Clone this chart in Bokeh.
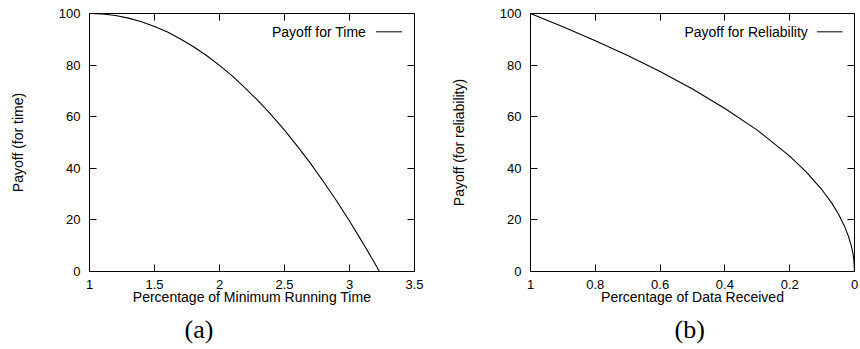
from bokeh.plotting import figure
from bokeh.layouts import row
from bokeh.models import Range1d, FixedTicker, LinearAxis, Label, Arrow, Title
from bokeh.embed import file_html
from bokeh.resources import INLINE

# ---- data ----
time_x = [1.0, 1.1, 1.2, 1.3, 1.4, 1.5, 1.6, 1.7, 1.8, 1.9, 2.0, 2.1, 2.2, 2.3,
          2.4, 2.5, 2.6, 2.7, 2.8, 2.9, 3.0, 3.1, 3.2, 3.23]
time_payoff = [100.0, 99.8, 99.2, 98.2, 96.8, 95.0, 92.8, 90.1, 87.1, 83.7, 79.9,
               75.7, 71.0, 66.0, 60.6, 54.8, 48.5, 41.9, 34.8, 27.4, 19.6, 11.3,
               2.7, 0.0]

data_x = [1.0, 0.9, 0.8, 0.7, 0.6, 0.5, 0.4, 0.3, 0.2, 0.15, 0.1, 0.07, 0.05,
          0.03, 0.02, 0.01, 0.005, 0.002, 0.0]
rel_payoff = [100.0, 94.9, 89.4, 83.7, 77.5, 70.7, 63.2, 54.8, 44.7, 38.7, 31.6,
              26.5, 22.4, 17.3, 14.1, 10.0, 7.1, 4.5, 0.0]

time_xticks = [1, 1.5, 2, 2.5, 3, 3.5]
time_xlabels = ["1", "1.5", "2", "2.5", "3", "3.5"]
data_xticks = [1, 0.8, 0.6, 0.4, 0.2, 0]
data_xlabels = ["1", "0.8", "0.6", "0.4", "0.2", "0"]
yticks = [0, 20, 40, 60, 80, 100]
ylabels = ["0", "20", "40", "60", "80", "100"]

FONT = "Liberation Sans"
SERIF = "Liberation Serif"


def style_axis(ax, ticks, labels, show_labels=True):
    ax.ticker = FixedTicker(ticks=ticks)
    ax.major_tick_in = 7
    ax.major_tick_out = 0
    ax.minor_tick_line_color = None
    ax.axis_line_color = "black"
    ax.major_tick_line_color = "black"
    ax.major_label_text_font = FONT
    ax.major_label_text_color = "black"
    if show_labels:
        ax.major_label_overrides = {t: l for t, l in zip(ticks, labels)}
        ax.major_label_text_font_size = "13px"
    else:
        ax.major_label_overrides = {t: "" for t in ticks}
        ax.major_label_text_font_size = "1px"
        ax.major_label_standoff = 0


def make_panel(xs, ys, x_range, xticks, xlabels, xlabel, ylabel, legend,
               leg_text_x, leg_line, caption, caption_offset, width, mbl, mbr,
               ylabel_standoff):
    p = figure(width=width, height=349, x_range=x_range, y_range=Range1d(0, 100),
               output_backend="svg", toolbar_location=None,
               min_border_left=mbl, min_border_right=mbr,
               min_border_top=13, min_border_bottom=78)
    p.grid.visible = False
    p.outline_line_color = "black"
    p.background_fill_color = "white"
    p.border_fill_color = "white"

    style_axis(p.xaxis[0], xticks, xlabels)
    style_axis(p.yaxis[0], yticks, ylabels)
    p.xaxis[0].major_label_standoff = 8
    p.yaxis[0].major_label_standoff = 9
    p.xaxis[0].axis_label = xlabel
    p.yaxis[0].axis_label = ylabel
    for ax in (p.xaxis[0], p.yaxis[0]):
        ax.axis_label_text_font = FONT
        ax.axis_label_text_font_size = "14px"
        ax.axis_label_text_font_style = "normal"
        ax.axis_label_text_color = "black"
    p.xaxis[0].axis_label_standoff = -3
    p.yaxis[0].axis_label_standoff = ylabel_standoff

    top = LinearAxis()
    style_axis(top, xticks, xlabels, show_labels=False)
    p.add_layout(top, "above")
    right = LinearAxis()
    style_axis(right, yticks, ylabels, show_labels=False)
    p.add_layout(right, "right")

    p.line(xs, ys, line_color="black", line_width=1.1)

    p.add_layout(Label(x=leg_text_x, y=92.9, text=legend, text_align="right",
                       text_baseline="middle", text_font=FONT,
                       text_font_size="14px", text_color="black"))
    p.add_layout(Arrow(end=None, x_start=leg_line[0], x_end=leg_line[1],
                       y_start=92.9, y_end=92.9, line_color="black", line_width=1))
    p.add_layout(Title(text=caption, align="left", offset=caption_offset,
                       text_font=SERIF, text_font_size="26px",
                       text_font_style="normal", text_color="black",
                       standoff=11), "below")
    return p


p1 = make_panel(time_x, time_payoff, Range1d(1, 3.5), time_xticks, time_xlabels,
                "Percentage of Minimum Running Time", "Payoff (for time)",
                "Payoff for Time", 3.128, (3.205, 3.405), "(a)", 95,
                430, 89, 16, 30)
p2 = make_panel(data_x, rel_payoff, Range1d(1, 0), data_xticks, data_xlabels,
                "Percentage of Data Received", "Payoff (for reliability)",
                "Payoff for Reliability", 0.144, (0.116, 0.037), "(b)", 144,
                430, 100, 6, 30)

layout = row(p1, p2)
open("out.html", "w").write(file_html(layout, INLINE))
